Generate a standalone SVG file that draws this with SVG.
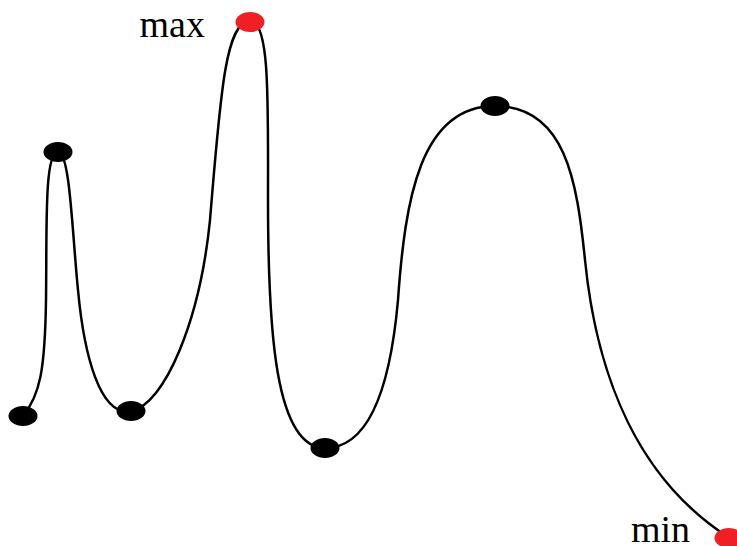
<svg xmlns="http://www.w3.org/2000/svg" width="737" height="546" viewBox="0 0 737 546">
<style>
.curve{fill:none;stroke:#000;stroke-width:2.5}
.pt{fill:#000}
.ext{fill:#ee2026}
.lbl{font-family:"Liberation Serif","Times New Roman",serif;font-size:38px;fill:#000}
</style>
<rect width="737" height="546" fill="#fff"/>
<g id="connectors">
<path class="curve" d="M23,416 C40,395 45,370 46,300 C47,230 44,152 58,152 C70,152 72,230 78,290 C84,355 100,417 131,411 C165,404.4 200,320 210,220 C220,100 225,21 250,21 C270,21 268,100 268,200 C268,330 275,448 325,448 C368,448 390,390 398,300 C405,200 420,106 495,106 C565,106 577,180 585,260 C597,380 640,480 728,537"/>
</g>
<g id="p1"><ellipse class="pt" cx="23" cy="416" rx="14.5" ry="10"/></g>
<g id="p2"><ellipse class="pt" cx="58" cy="152" rx="14.5" ry="10"/></g>
<g id="p3"><ellipse class="pt" cx="131" cy="411" rx="14.5" ry="10"/></g>
<g id="max"><ellipse class="ext" cx="250" cy="22" rx="14.5" ry="10"/><text class="lbl" x="205" y="37" text-anchor="end">max</text></g>
<g id="p5"><ellipse class="pt" cx="325" cy="448" rx="14.5" ry="10"/></g>
<g id="p6"><ellipse class="pt" cx="495" cy="106" rx="14.5" ry="10"/></g>
<g id="min"><ellipse class="ext" cx="729" cy="538" rx="14.5" ry="10"/><text class="lbl" x="690" y="542" text-anchor="end">min</text></g>
</svg>
